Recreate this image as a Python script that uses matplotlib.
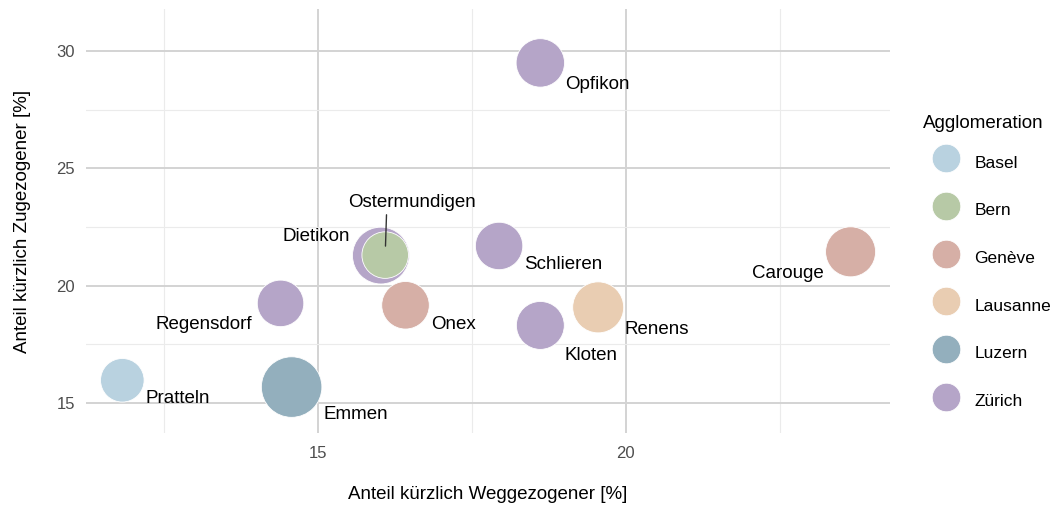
import matplotlib
matplotlib.use("Agg")
import matplotlib.pyplot as plt
from matplotlib.lines import Line2D
import numpy as np

plt.rcParams['font.family'] = ['Liberation Sans', 'DejaVu Sans']

# ---- data ----
gemeinden = ["Pratteln", "Regensdorf", "Emmen", "Dietikon", "Ostermundigen", "Onex",
             "Schlieren", "Opfikon", "Kloten", "Renens", "Carouge"]
agglomeration = ["Basel", "Zürich", "Luzern", "Zürich", "Bern", "Genève",
                 "Zürich", "Zürich", "Zürich", "Lausanne", "Genève"]
weggezogen = [11.82, 14.39, 14.57, 16.02, 16.09, 16.42, 17.94, 18.61, 18.61, 19.55, 23.65]
zugezogen = [15.96, 19.24, 15.67, 21.28, 21.30, 19.16, 21.69, 29.50, 18.30, 19.07, 21.44]
einwohner_k = [15.7, 17.9, 30.3, 26.7, 17.9, 18.7, 18.6, 19.4, 19.0, 21.5, 20.7]

agglo_levels = ["Basel", "Bern", "Genève", "Lausanne", "Luzern", "Zürich"]
agglo_colors = ["#b9d2e0", "#b7c9a6", "#d6afa6", "#e9cdb2", "#93afbd", "#b5a5c8"]

# label offsets (pixels, x right / y down) for text placement
label_offsets = {
    "Pratteln": (55, 18), "Regensdorf": (-77, 21), "Emmen": (64, 27),
    "Dietikon": (-65, -19), "Ostermundigen": (27, -53), "Onex": (48, 19),
    "Schlieren": (64, 19), "Opfikon": (57, 22), "Kloten": (51, 30),
    "Renens": (59, 22), "Carouge": (-63, 22),
}

# ---- figure ----
W, H, DPI = 1053, 508, 100
fig = plt.figure(figsize=(W / DPI, H / DPI), dpi=DPI)
ax = fig.add_axes([86 / W, 1 - 433 / H, (890 - 86) / W, (433 - 9) / H])

ax.set_xlim(11.23, 24.29)
ax.set_ylim(13.71, 31.8)

for s in ax.spines.values():
    s.set_visible(False)

ax.set_xticks([15, 20])
ax.set_yticks([15, 20, 25, 30])
ax.set_xticks([12.5, 17.5, 22.5], minor=True)
ax.set_yticks([17.5, 22.5, 27.5], minor=True)
ax.grid(which='major', color='#d3d3d3', linewidth=1.4)
ax.grid(which='minor', color='#ebebeb', linewidth=0.8)
ax.set_axisbelow(True)
ax.tick_params(which='both', length=0)
ax.tick_params(axis='x', pad=9, labelsize=12, labelcolor='#4d4d4d')
ax.tick_params(axis='y', pad=8, labelsize=12, labelcolor='#4d4d4d')

cmap = dict(zip(agglo_levels, agglo_colors))
px2pt = 72 / DPI
k = 5.5  # radius px per sqrt(thousand inhabitants)
sizes = [(2 * k * np.sqrt(p) * px2pt) ** 2 for p in einwohner_k]
ax.scatter(weggezogen, zugezogen, s=sizes, c=[cmap[a] for a in agglomeration],
           edgecolors='white', linewidths=0.6, zorder=3)

for name, xv, yv in zip(gemeinden, weggezogen, zugezogen):
    dx, dy = label_offsets[name]
    if name == "Ostermundigen":
        ax.annotate(name, xy=(xv, yv), xytext=(dx * px2pt, -dy * px2pt),
                    textcoords='offset points', ha='center', va='center',
                    fontsize=13.5, color='black', zorder=4,
                    arrowprops=dict(arrowstyle='-', color='#333333', lw=1.0,
                                    relpos=(0.30, 0.0), shrinkA=1, shrinkB=9 * px2pt))
    else:
        ax.annotate(name, xy=(xv, yv), xytext=(dx * px2pt, -dy * px2pt),
                    textcoords='offset points', ha='center', va='center',
                    fontsize=13.5, color='black', zorder=4)

ax.set_xlabel("Anteil kürzlich Weggezogener [%]", fontsize=13.5, color='black')
ax.set_ylabel("Anteil kürzlich Zugezogener [%]", fontsize=13.5, color='black')
ax.xaxis.set_label_coords(0.5, (433 - 486) / 424)
ax.yaxis.set_label_coords((31 - 86) / 804, 0.5)

handles = [Line2D([], [], marker='o', linestyle='none', markersize=2 * 14.3 * px2pt,
                  markerfacecolor=c, markeredgecolor='white', markeredgewidth=0.6)
           for c in agglo_colors]
leg = ax.legend(handles, agglo_levels, title="Agglomeration", loc='upper left',
                bbox_to_anchor=(923 / W, 1 - 115 / H), bbox_transform=fig.transFigure,
                frameon=False, fontsize=12.5, title_fontsize=13.5,
                handlelength=2.67, handleheight=2.0, handletextpad=0.28,
                labelspacing=1.2, borderpad=0, borderaxespad=0, alignment='left')
# tighten gap between legend title and first entry
leg._legend_box.sep = leg._legend_box.sep - 4 * px2pt

fig.savefig("out.png", dpi=DPI)
